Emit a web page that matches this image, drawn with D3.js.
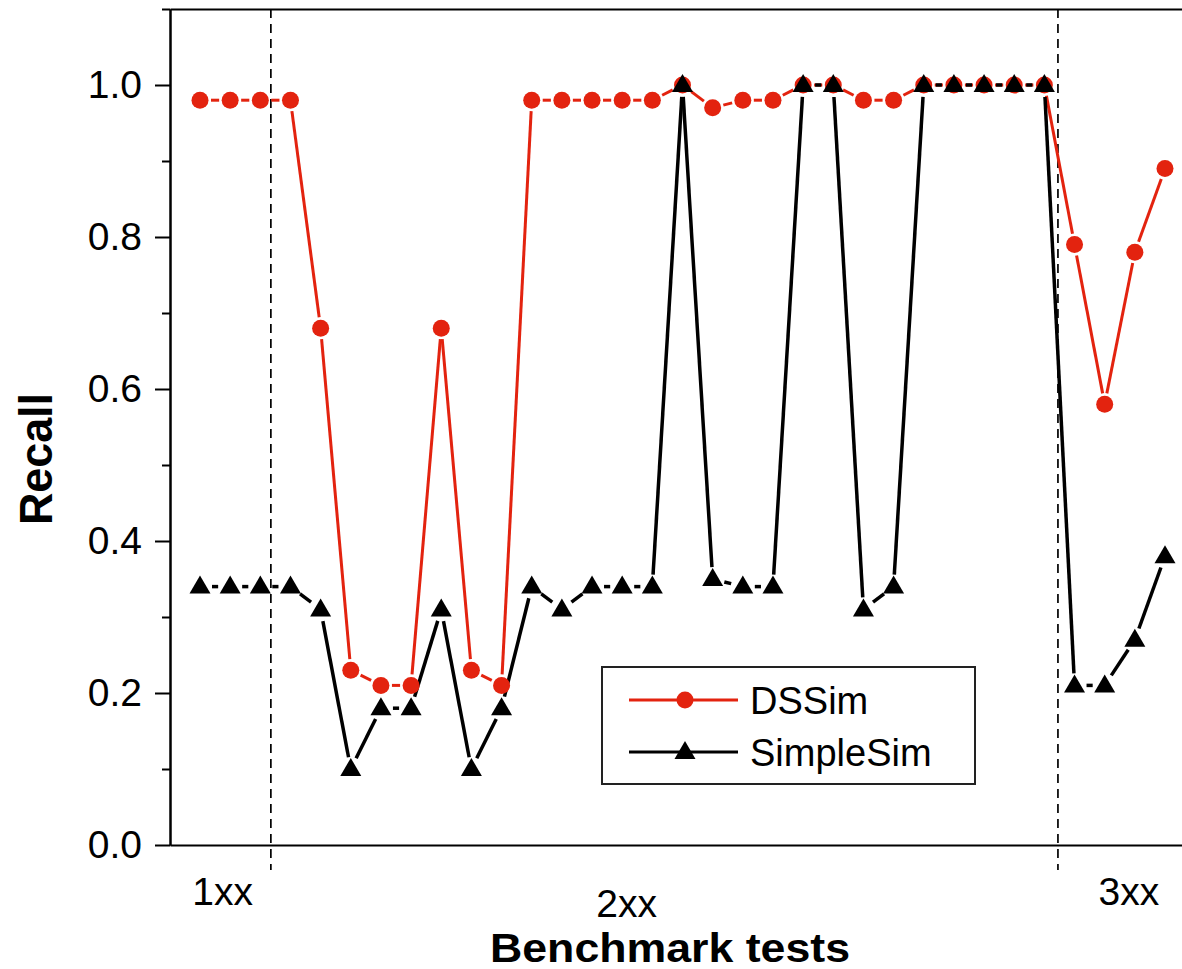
<!DOCTYPE html>
<html>
<head>
<meta charset="utf-8">
<script src="https://cdn.jsdelivr.net/npm/d3@7"></script>
<style>
  body { margin: 0; background: #fff; }
  svg { display: block; font-family: "Liberation Sans", Arial, sans-serif; }
  .axis path, .axis line { stroke: #000; stroke-width: 2; }
  .axis text { font-size: 39px; fill: #000; }
</style>
</head>
<body>
<div id="chart"></div>
<script>
// Recall per benchmark test (33 tests, grouped 1xx / 2xx / 3xx)
var dssim = [0.98, 0.98, 0.98, 0.98, 0.68, 0.23, 0.21, 0.21, 0.68, 0.23, 0.21,
             0.98, 0.98, 0.98, 0.98, 0.98, 1.00, 0.97, 0.98, 0.98, 1.00, 1.00,
             0.98, 0.98, 1.00, 1.00, 1.00, 1.00, 1.00, 0.79, 0.58, 0.78, 0.89];
var simpleSim = [0.34, 0.34, 0.34, 0.34, 0.31, 0.10, 0.18, 0.18, 0.31, 0.10, 0.18,
                 0.34, 0.31, 0.34, 0.34, 0.34, 1.00, 0.35, 0.34, 0.34, 1.00, 1.00,
                 0.31, 0.34, 1.00, 1.00, 1.00, 1.00, 1.00, 0.21, 0.21, 0.27, 0.38];
var groupLabels = ["1xx", "2xx", "3xx"];
var majorTicks = [0, 0.2, 0.4, 0.6, 0.8, 1.0];
var minorTicks = [0.1, 0.3, 0.5, 0.7, 0.9, 1.1];

var width = 1182, height = 969;
var red = "#e3230f";

var svg = d3.select("#chart").append("svg")
    .attr("width", width)
    .attr("height", height);

// x: test index -> pixel, y: recall -> pixel
var x = d3.scaleLinear().domain([0, dssim.length - 1]).range([200, 1165]);
var y = d3.scaleLinear().domain([0, 1.1]).range([845, 9]);
var frameX = d3.scaleLinear().domain([0, 1]).range([170, 1200]);

// group separators sit between tests
var separators = [2.35, 28.45];
var groupPos = [0.75, 14.15, 30.8];

svg.append("g").selectAll(".sep")
    .data(separators)
    .enter().append("line")
    .attr("class", "sep")
    .attr("x1", function(d) { return x(d); })
    .attr("x2", function(d) { return x(d); })
    .attr("y1", y(1.1))
    .attr("y2", 870)
    .attr("stroke", "#000")
    .attr("stroke-width", 1.7)
    .attr("stroke-dasharray", "9,6");

// frame: bottom and top lines
svg.append("g")
    .attr("class", "axis")
    .attr("transform", "translate(0," + y(0) + ")")
    .call(d3.axisBottom(frameX).tickValues([]).tickSizeOuter(0));

svg.append("g")
    .attr("class", "axis")
    .attr("transform", "translate(0," + y(1.1) + ")")
    .call(d3.axisTop(frameX).tickValues([]).tickSizeOuter(0));

// y axis with major and minor ticks
svg.append("g")
    .attr("class", "axis")
    .attr("transform", "translate(170,0)")
    .call(d3.axisLeft(y).tickValues(majorTicks).tickSize(15).tickSizeOuter(0)
        .tickPadding(13).tickFormat(d3.format(".1f")));

svg.append("g")
    .attr("class", "axis")
    .attr("transform", "translate(170,0)")
    .call(d3.axisLeft(y).tickValues(minorTicks).tickSize(8).tickSizeOuter(0)
        .tickFormat(""));

// group labels under the x axis
svg.append("g").selectAll(".grp")
    .data(groupLabels)
    .enter().append("text")
    .attr("class", "grp")
    .attr("x", function(d, i) { return x(groupPos[i]); })
    .attr("y", function(d, i) { return i === 1 ? 917 : 905; })
    .attr("text-anchor", "middle")
    .style("font-size", "39px")
    .text(function(d) { return d; });

// axis titles
svg.append("text")
    .attr("x", 670)
    .attr("y", 962)
    .attr("text-anchor", "middle")
    .attr("textLength", 360)
    .attr("lengthAdjust", "spacingAndGlyphs")
    .style("font-size", "40px")
    .style("font-weight", "bold")
    .text("Benchmark tests");

svg.append("text")
    .attr("transform", "translate(52,459) rotate(-90)")
    .attr("text-anchor", "middle")
    .attr("textLength", 132)
    .attr("lengthAdjust", "spacingAndGlyphs")
    .style("font-size", "47px")
    .style("font-weight", "bold")
    .text("Recall");

// line segments stop short of the markers
function segments(values) {
    var out = [];
    for (var i = 1; i < values.length; i++) {
        out.push({x0: x(i - 1), y0: y(values[i - 1]), x1: x(i), y1: y(values[i])});
    }
    return out;
}

function drawSeries(values, color, gap, lineWidth) {
    svg.append("g").selectAll("line")
        .data(segments(values))
        .enter().append("line")
        .each(function(d) {
            var dx = d.x1 - d.x0, dy = d.y1 - d.y0;
            var len = Math.sqrt(dx * dx + dy * dy);
            var ux = dx / len, uy = dy / len;
            d3.select(this)
                .attr("x1", d.x0 + ux * gap)
                .attr("y1", d.y0 + uy * gap)
                .attr("x2", d.x1 - ux * gap)
                .attr("y2", d.y1 - uy * gap);
        })
        .attr("stroke", color)
        .attr("stroke-width", lineWidth);
}

var triangle = "M0,-11L10.5,7L-10.5,7Z";

drawSeries(dssim, red, 11, 3);
drawSeries(simpleSim, "#000", 12, 3.5);

svg.append("g").selectAll("circle")
    .data(dssim)
    .enter().append("circle")
    .attr("cx", function(d, i) { return x(i); })
    .attr("cy", function(d) { return y(d); })
    .attr("r", 8.5)
    .attr("fill", red);

svg.append("g").selectAll("path")
    .data(simpleSim)
    .enter().append("path")
    .attr("transform", function(d, i) { return "translate(" + x(i) + "," + y(d) + ")"; })
    .attr("d", triangle)
    .attr("fill", "#000");

// legend
var legend = svg.append("g").attr("transform", "translate(602,667)");
legend.append("rect")
    .attr("width", 373)
    .attr("height", 117)
    .attr("fill", "#fff")
    .attr("stroke", "#222")
    .attr("stroke-width", 2);

var legendItems = [
    {name: "DSSim", color: red, shape: "circle"},
    {name: "SimpleSim", color: "#000", shape: "triangle"}
];

var item = legend.selectAll(".item")
    .data(legendItems)
    .enter().append("g")
    .attr("class", "item")
    .attr("transform", function(d, i) { return "translate(0," + (33 + i * 52) + ")"; });

item.append("line")
    .attr("x1", 27).attr("x2", 136)
    .attr("stroke", function(d) { return d.color; })
    .attr("stroke-width", 3);

item.each(function(d) {
    var g = d3.select(this);
    if (d.shape === "circle") {
        g.append("circle").attr("cx", 83).attr("r", 8.5).attr("fill", d.color);
    } else {
        g.append("path").attr("transform", "translate(83,0)").attr("d", triangle).attr("fill", d.color);
    }
});

item.append("text")
    .attr("x", 148)
    .attr("y", 14)
    .style("font-size", "38px")
    .text(function(d) { return d.name; });
</script>
</body>
</html>
